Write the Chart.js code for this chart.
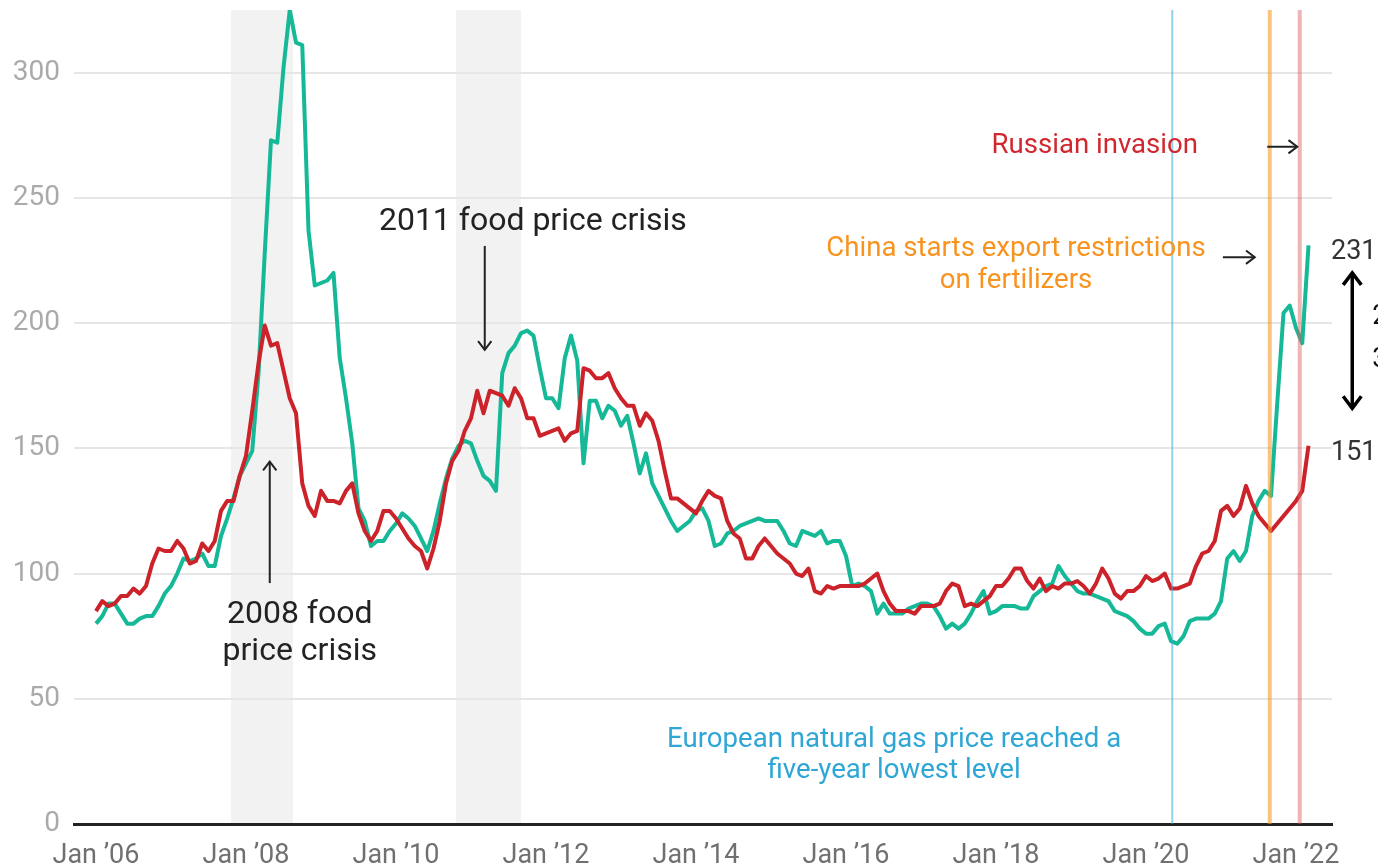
<!DOCTYPE html>
<html>
<head>
<meta charset="utf-8">
<title>Fertilizer vs food prices</title>
<script src="https://cdn.jsdelivr.net/npm/chart.js@4.4.1/dist/chart.umd.min.js"></script>
<style>
  body { margin: 0; background: #fff; }
  #wrap { width: 1378px; height: 867px; position: relative; }
</style>
</head>
<body>
<div id="wrap"><canvas id="priceChart"></canvas></div>
<script>
// monthly index values, Jan 2006 (month 0) .. Mar 2022 (month 194)
const foodIndex = [
  85, 89, 87, 88, 91, 91, 94, 92, 95, 104,
  110, 109, 109, 113, 110, 104, 105, 112, 109, 113,
  125, 129, 129, 139, 147, 165, 184, 199, 191, 192,
  181, 170, 164, 136, 127, 123, 133, 129, 129, 128,
  133, 136, 124, 117, 113, 117, 125, 125, 122, 118,
  114, 111, 109, 102, 110, 121, 136, 145, 149, 157,
  162, 173, 164, 173, 172, 171, 167, 174, 170, 162,
  162, 155, 156, 157, 158, 153, 156, 157, 182, 181,
  178, 178, 180, 174, 170, 167, 167, 159, 164, 161,
  153, 141, 130, 130, 128, 126, 124, 129, 133, 131,
  130, 121, 116, 114, 106, 106, 111, 114, 111, 108,
  106, 104, 100, 99, 102, 93, 92, 95, 94, 95,
  95, 95, 95, 96, 98, 100, 93, 88, 85, 85,
  85, 84, 87, 87, 87, 88, 93, 96, 95, 87,
  88, 87, 89, 91, 95, 95, 98, 102, 102, 97,
  94, 98, 93, 95, 94, 96, 96, 97, 95, 92,
  96, 102, 98, 92, 90, 93, 93, 95, 99, 97,
  98, 100, 94, 94, 95, 96, 103, 108, 109, 113,
  125, 127, 123, 126, 135, 128, 123, 120, 117, 120,
  123, 126, 129, 133, 151
];
const fertilizerIndex = [
  80, 83, 88, 88, 84, 80, 80, 82, 83, 83,
  87, 92, 95, 100, 106, 105, 106, 108, 103, 103,
  115, 122, 130, 139, 144, 149, 180, 228, 273, 272,
  302, 325, 312, 311, 237, 215, 216, 217, 220, 186,
  170, 152, 126, 121, 111, 113, 113, 117, 120, 124,
  122, 119, 114, 109, 117, 128, 138, 146, 151, 153,
  152, 145, 139, 137, 133, 180, 188, 191, 196, 197,
  195, 182, 170, 170, 166, 186, 195, 185, 144, 169,
  169, 162, 167, 165, 159, 163, 152, 140, 148, 136,
  131, 126, 121, 117, 119, 121, 125, 126, 121, 111,
  112, 116, 117, 119, 120, 121, 122, 121, 121, 121,
  117, 112, 111, 117, 116, 115, 117, 112, 113, 113,
  107, 95, 96, 95, 93, 84, 88, 84, 84, 84,
  86, 87, 88, 88, 87, 83, 78, 80, 78, 80,
  84, 89, 93, 84, 85, 87, 87, 87, 86, 86,
  91, 93, 95, 96, 103, 99, 96, 93, 92, 92,
  91, 90, 89, 85, 84, 83, 81, 78, 76, 76,
  79, 80, 73, 72, 75, 81, 82, 82, 82, 84,
  89, 106, 109, 105, 109, 123, 129, 133, 131, 168,
  204, 207, 198, 192, 231
];
const tickMonths = [0, 24, 48, 72, 96, 120, 144, 168, 192];
const tickLabels = ['Jan ’06', 'Jan ’08', 'Jan ’10', 'Jan ’12', 'Jan ’14', 'Jan ’16', 'Jan ’18', 'Jan ’20', 'Jan ’22'];
const yTicks = [0, 50, 100, 150, 200, 250, 300];

// shaded crisis periods and event lines (month index)
const crisisBands = [[21.6, 31.5], [57.6, 68.0]];
const eventLines = [
  { m: 172.2, w: 2, color: 'rgba(56,170,220,0.55)' },
  { m: 187.8, w: 4, color: 'rgba(243,156,43,0.6)' },
  { m: 192.6, w: 4, color: 'rgba(214,90,90,0.45)' }
];

// annotation text, placed in data units
const notes = [
  { lines: ['2008 food', 'price crisis'], m: 32.6, v: 84.6, color: '#222', size: 32, lh: 37 },
  { lines: ['2011 food price crisis'], m: 69.9, v: 241.7, color: '#222', size: 32, lh: 37 },
  { lines: ['Russian invasion'], m: 159.8, v: 272, color: '#d0282e', size: 27.6, lh: 32 },
  { lines: ['China starts export restrictions', 'on fertilizers'], m: 147.2, v: 230.6, color: '#f7931e', size: 27.6, lh: 32 },
  { lines: ['European natural gas price reached a', 'five-year lowest level'], m: 127.7, v: 34.7, color: '#2ea6d6', size: 27.6, lh: 31 }
];
const arrows = [
  { m1: 27.8, v1: 96.2, m2: 27.8, v2: 144.7 },
  { m1: 62.2, v1: 230.8, m2: 62.2, v2: 189.3 },
  { m1: 187.4, v1: 270.4, m2: 192.2, v2: 270.4 },
  { m1: 180.3, v1: 226.3, m2: 185.4, v2: 226.3 }
];

function drawArrow(ctx, x1, y1, x2, y2, head, both) {
    ctx.beginPath();
    ctx.moveTo(x1, y1);
    ctx.lineTo(x2, y2);
    ctx.stroke();
    const ends = both ? [[x2, y2, x1, y1], [x1, y1, x2, y2]] : [[x2, y2, x1, y1]];
    ends.forEach(([hx, hy, fx, fy]) => {
        const a = Math.atan2(hy - fy, hx - fx);
        ctx.beginPath();
        ctx.moveTo(hx - head * Math.cos(a - 0.65), hy - head * Math.sin(a - 0.65));
        ctx.lineTo(hx, hy);
        ctx.lineTo(hx - head * Math.cos(a + 0.65), hy - head * Math.sin(a + 0.65));
        ctx.stroke();
    });
}

const overlay = {
    id: 'overlay',
    beforeDraw(chart) {
        const { ctx, chartArea, scales: { x } } = chart;
        ctx.save();
        ctx.fillStyle = '#f2f2f2';
        crisisBands.forEach(([a, b]) => {
            const x1 = x.getPixelForValue(a), x2 = x.getPixelForValue(b);
            ctx.fillRect(x1, chartArea.top, x2 - x1, chartArea.bottom - chartArea.top);
        });
        ctx.restore();
    },
    afterDatasetsDraw(chart) {
        const { ctx, chartArea, scales: { x, y } } = chart;
        ctx.save();
        eventLines.forEach(l => {
            ctx.fillStyle = l.color;
            ctx.fillRect(x.getPixelForValue(l.m) - l.w / 2, chartArea.top, l.w, chartArea.bottom - chartArea.top);
        });

        ctx.textAlign = 'center';
        ctx.textBaseline = 'middle';
        notes.forEach(n => {
            ctx.font = n.size + 'px Roboto';
            ctx.fillStyle = n.color;
            n.lines.forEach((t, i) => {
                ctx.fillText(t, x.getPixelForValue(n.m), y.getPixelForValue(n.v) + i * n.lh + 3);
            });
        });

        ctx.strokeStyle = '#222';
        ctx.lineWidth = 2;
        arrows.forEach(a => {
            drawArrow(ctx, x.getPixelForValue(a.m1), y.getPixelForValue(a.v1),
                x.getPixelForValue(a.m2), y.getPixelForValue(a.v2), 11, false);
        });

        // end values and the gap arrow
        const last = foodIndex.length - 1;
        ctx.textAlign = 'left';
        ctx.font = '27px Roboto';
        ctx.fillStyle = '#333';
        ctx.fillText(String(fertilizerIndex[last]), x.getPixelForValue(197.6), y.getPixelForValue(fertilizerIndex[last]) + 7);
        ctx.fillText(String(foodIndex[last]), x.getPixelForValue(197.6), y.getPixelForValue(foodIndex[last]) + 7);
        ctx.fillStyle = '#111';
        ctx.fillText('2x', x.getPixelForValue(204.2), y.getPixelForValue(202.5));
        ctx.fillText('3x', x.getPixelForValue(204.2), y.getPixelForValue(185));

        ctx.strokeStyle = '#000';
        ctx.lineWidth = 3.5;
        drawArrow(ctx, x.getPixelForValue(201), y.getPixelForValue(220), x.getPixelForValue(201), y.getPixelForValue(166), 15, true);
        ctx.restore();
    }
};

const ctx = document.getElementById('priceChart').getContext('2d');

new Chart(ctx, {
    type: 'line',
    data: {
        datasets: [{
            label: 'Food',
            data: foodIndex.map((v, i) => ({ x: i, y: v })),
            borderColor: '#cc2229',
            borderWidth: 4,
            pointRadius: 0,
            tension: 0,
            borderJoinStyle: 'round'
        }, {
            label: 'Fertilizer',
            data: fertilizerIndex.map((v, i) => ({ x: i, y: v })),
            borderColor: '#15b897',
            borderWidth: 4,
            pointRadius: 0,
            tension: 0,
            borderJoinStyle: 'round'
        }]
    },
    options: {
        responsive: true,
        maintainAspectRatio: false,
        animation: false,
        layout: { padding: { top: 10, right: 46, left: 0, bottom: 0 } },
        plugins: { legend: { display: false }, tooltip: { enabled: false } },
        scales: {
            x: {
                type: 'linear',
                min: -3.52,
                max: 197.76,
                afterBuildTicks: s => { s.ticks = tickMonths.map(v => ({ value: v })); },
                afterFit: s => { s.height = 43; s.paddingLeft = 0; s.paddingRight = 0; },
                grid: { display: false },
                border: { display: true, color: '#222', width: 3 },
                ticks: {
                    autoSkip: false,
                    maxRotation: 0,
                    padding: 8,
                    color: '#707070',
                    font: { family: 'Roboto', size: 27 },
                    callback: v => tickLabels[tickMonths.indexOf(v)]
                }
            },
            y: {
                min: 0,
                max: 325,
                afterBuildTicks: s => { s.ticks = yTicks.map(v => ({ value: v })); },
                afterFit: s => { s.width = 74; s.paddingTop = 0; s.paddingBottom = 0; },
                grid: { color: '#e6e6e6', lineWidth: 2, drawTicks: false },
                border: { display: false },
                ticks: {
                    padding: 14,
                    color: '#aaaaaa',
                    font: { family: 'Roboto', size: 28 }
                }
            }
        }
    },
    plugins: [overlay]
});
</script>
</body>
</html>
